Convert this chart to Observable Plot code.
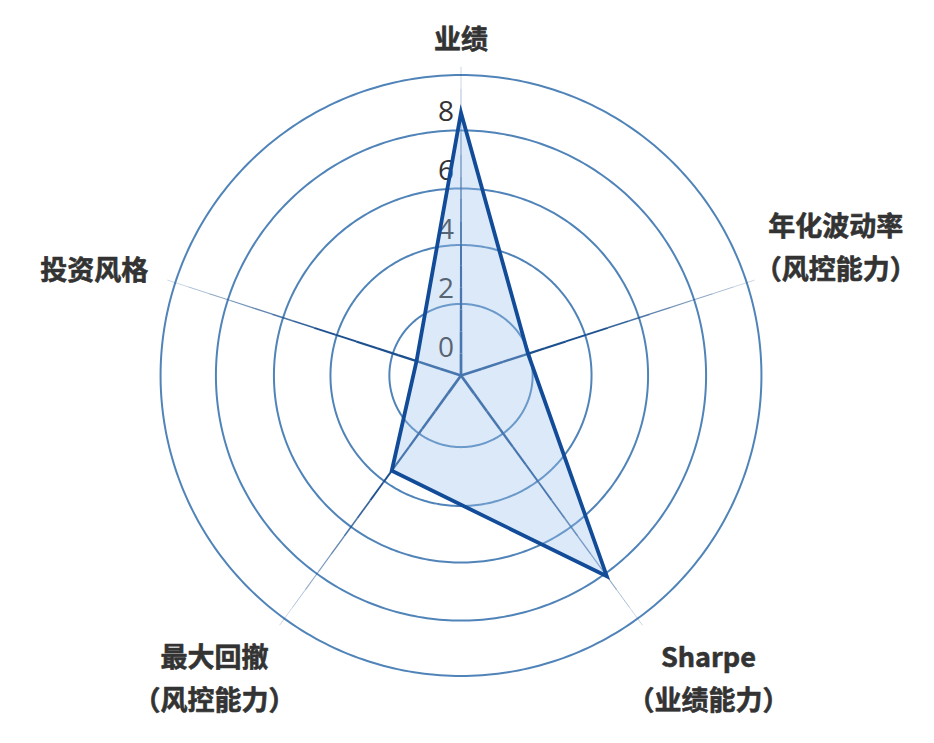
<!DOCTYPE html>
<html><head><meta charset="utf-8">
<script src="https://cdn.jsdelivr.net/npm/d3@7"></script>
<script src="https://cdn.jsdelivr.net/npm/@observablehq/plot@0.6"></script>
<style>html,body{margin:0;padding:0;background:#fff;overflow:hidden}</style>
</head><body><div id="chart"></div>
<script>
// ---- data ----
const categories = ["业绩", "年化波动率\n（风控能力）", "Sharpe\n（业绩能力）", "最大回撤\n（风控能力）", "投资风格"];
const values = [8.0, 1.5, 7.5, 3.1, 0.7];
const tickValues = [0, 2, 4, 6, 8];
const tickLabels = ["0", "2", "4", "6", "8"];
const gridLevels = [1.54, 3.53, 5.44, 7.40, 9.27];
const axisEnd = 9.55;
const rMin = -0.88; // radial value at the centre

// ---- layout ----
const W = 934, H = 743;
const cx = 460.5, cy = 375, k = 29.6; // pixels per value unit
const n = categories.length;
const angOf = i => i * 2 * Math.PI / n;
const polar = (a, v) => { const r = v - rMin; return {x: r * Math.sin(a), y: r * Math.cos(a)}; };

// grid circles
const circles = [];
gridLevels.forEach(L => {
  for (let d = 0; d <= 360; d += 1) {
    const p = polar(d * Math.PI / 180, L);
    circles.push({level: L, x: p.x, y: p.y});
  }
});

// tapered spokes
const spokes = [];
const N = 14;
for (let i = 0; i < n; i++) {
  for (let j = 0; j < N; j++) {
    const t0 = j / N, t1 = (j + 1) / N, tm = (t0 + t1) / 2;
    const p0 = polar(angOf(i), rMin + t0 * (axisEnd - rMin));
    const p1 = polar(angOf(i), rMin + t1 * (axisEnd - rMin));
    spokes.push({x1: p0.x, y1: p0.y, x2: p1.x, y2: p1.y,
      w: 2.8 - 2.1 * tm,
      o: 1 - 0.75 * Math.max(0, (tm - 0.45) / 0.55)});
  }
}

// polygon
const poly = values.map((v, i) => ({cat: categories[i], ...polar(angOf(i), v)}));

const labelR = 11 + rMin;
const labelNudge = [
  {dx: 0, dy: -15}, {dx: 65, dy: -31}, {dx: 56, dy: 36}, {dx: -55, dy: 36}, {dx: -57, dy: -9}
];

const labelMarks = categories.map((c, i) => {
  const p = polar(angOf(i), labelR);
  return Plot.text([c], {
    x: () => p.x, y: () => p.y, text: d => d,
    dx: labelNudge[i].dx, dy: labelNudge[i].dy,
    textAnchor: "middle", lineAnchor: "middle", lineHeight: 1.58,
    fontSize: 27, fontWeight: "bold", fontFamily: "Noto Sans CJK SC",
    fill: "#333", stroke: "#333", strokeWidth: 0.6
  });
});

const chart = Plot.plot({
  width: W, height: H,
  marginTop: 0, marginRight: 0, marginBottom: 0, marginLeft: 0,
  x: {domain: [-cx / k, (W - cx) / k], range: [0, W], axis: null},
  y: {domain: [-(H - cy) / k, cy / k], range: [H, 0], axis: null},
  style: {background: "#fff", overflow: "visible"},
  marks: [
    Plot.line(circles, {x: "x", y: "y", z: "level", stroke: "#5084b9", strokeWidth: 2}),
    Plot.link(spokes, {x1: "x1", y1: "y1", x2: "x2", y2: "y2", stroke: "#1c4f8e",
      strokeWidth: "w", strokeOpacity: "o", strokeLinecap: "butt"}),
    Plot.text(tickValues, {x: () => 0, y: v => v - rMin, text: (d, i) => tickLabels[i],
      textAnchor: "end", lineAnchor: "middle", dx: -7, dy: -1,
      fontSize: 28, fontFamily: "Open Sans", fill: "#333"}),
    Plot.line(poly, {x: "x", y: "y", curve: "linear-closed",
      fill: "rgb(155,192,235)", fillOpacity: 0.35,
      stroke: "#124c98", strokeWidth: 3.8, strokeLinejoin: "miter", strokeMiterlimit: 20}),
    ...labelMarks
  ]
});
document.getElementById("chart").appendChild(chart);
</script>
</body></html>
